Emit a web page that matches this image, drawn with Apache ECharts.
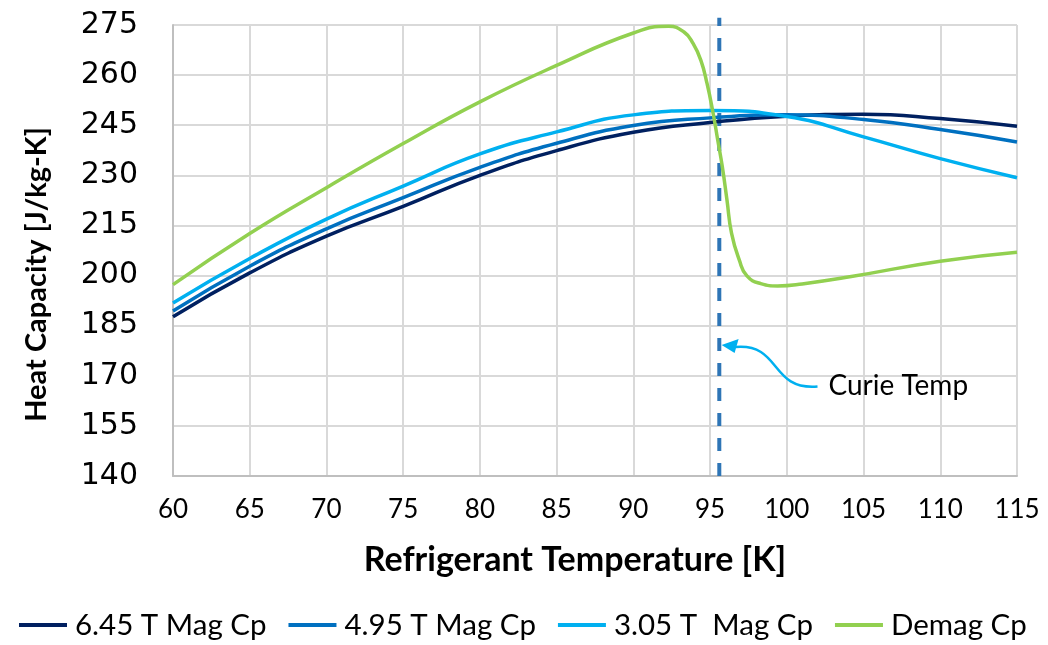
<!DOCTYPE html>
<html lang="en">
<head>
    <meta charset="UTF-8">
    <title>Heat Capacity</title>
    <script src="https://cdn.jsdelivr.net/npm/echarts@6/dist/echarts.min.js"></script>
    <style>
        html, body { margin: 0; padding: 0; background: #ffffff; }
    </style>
</head>
<body>
<div id="chart" style="width: 1048px; height: 645px;"></div>
<script>
    // temperatures [K] and heat capacity [J/kg-K]
    var magTemps = [60, 65, 70, 75, 80, 85, 90, 95, 100, 105, 110, 115];
    var cp645 = [187.7, 200.8, 211.8, 220.7, 230.0, 237.4, 242.9, 245.8, 247.7, 248.3, 247.0, 244.7];
    var cp495 = [189.4, 202.8, 214.0, 223.3, 232.4, 239.6, 244.9, 247.2, 248.1, 246.7, 243.7, 240.0];
    var cp305 = [191.8, 205.1, 216.9, 226.8, 236.4, 243.0, 248.1, 249.4, 247.6, 241.5, 235.0, 229.3];

    var demagTemps = [60, 65, 70, 75, 80, 85, 90, 92.3, 93.3, 93.9, 94.4, 94.8, 95.2, 95.5, 95.8,
        96.1, 96.4, 96.9, 97.4, 98.3, 99.4, 101, 104.2, 110, 115];
    var cpDemag = [197.3, 212.6, 226.3, 239.5, 252.0, 262.9, 272.6, 274.6, 272.9, 269.4, 264.4, 257.5, 248.5, 240.5, 232.5,
        222.6, 212.6, 204.7, 199.9, 197.6, 196.9, 197.5, 199.7, 204.3, 207.0];

    var seriesNames = ['6.45 T Mag Cp', '4.95 T Mag Cp', '3.05 T  Mag Cp', 'Demag Cp'];
    var curieTemp = 95.6;
    var curieSpan = [140, 277.2];

    function pairs(xs, ys) {
        var res = [];
        for (var i = 0; i < xs.length; i++) res.push([xs[i], ys[i]]);
        return res;
    }

    function curve(name, color, data) {
        return {
            name: name,
            type: 'line',
            data: data,
            showSymbol: false,
            smooth: 0.5,
            lineStyle: { color: color, width: 3.5 },
            itemStyle: { color: color },
            z: 3
        };
    }

    var chart = echarts.init(document.getElementById('chart'));
    chart.setOption({
        backgroundColor: '#ffffff',
        animation: false,
        grid: { left: 173, right: 31, top: 25, bottom: 169 },
        legend: {
            bottom: 0,
            left: 14,
            icon: 'rect',
            itemWidth: 48,
            itemHeight: 4,
            itemGap: 22,
            data: seriesNames,
            textStyle: { fontFamily: 'Lato', fontSize: 29.5, color: '#000000', padding: [0, 0, 0, 3] }
        },
        xAxis: {
            type: 'value',
            min: 60,
            max: 115,
            interval: 5,
            name: 'Refrigerant Temperature [K]',
            nameLocation: 'middle',
            nameGap: 67,
            nameTextStyle: { fontFamily: 'Lato', fontWeight: 'bold', fontSize: 34, color: '#000000', padding: [0, 40, 0, 0] },
            axisLine: { lineStyle: { color: '#bfbfbf', width: 2 } },
            axisTick: { show: false },
            axisLabel: { fontFamily: 'Lato', fontSize: 26, color: '#000000', margin: 21 },
            splitLine: { show: true, lineStyle: { color: '#d9d9d9', width: 2 } }
        },
        yAxis: {
            type: 'value',
            min: 140,
            max: 275,
            interval: 15,
            name: 'Heat Capacity [J/kg-K]',
            nameLocation: 'middle',
            nameGap: 122,
            nameTextStyle: { fontFamily: 'Lato', fontWeight: 'bold', fontSize: 29, color: '#000000', padding: [0, 48, 0, 0] },
            axisLine: { show: true, lineStyle: { color: '#bfbfbf', width: 2 } },
            axisTick: { show: false },
            axisLabel: { fontFamily: 'DejaVu Sans', fontSize: 30, color: '#000000', margin: 35 },
            splitLine: { show: true, lineStyle: { color: '#d9d9d9', width: 2 } }
        },
        series: [
            curve(seriesNames[0], '#002060', pairs(magTemps, cp645)),
            curve(seriesNames[1], '#0070c0', pairs(magTemps, cp495)),
            curve(seriesNames[2], '#00b0f0', pairs(magTemps, cp305)),
            curve(seriesNames[3], '#92d050', pairs(demagTemps, cpDemag)),
            {
                name: 'Curie',
                type: 'line',
                data: [[curieTemp, curieSpan[0]], [curieTemp, curieSpan[1]]],
                showSymbol: false,
                clip: false,
                silent: true,
                lineStyle: { color: '#2e75b6', width: 4, type: [13, 12] },
                z: 2
            }
        ]
    });

    // Curie Temp annotation with curved arrow
    var tip = chart.convertToPixel({ gridIndex: 0 }, [curieTemp + 0.15, 179.2]);
    var tail = chart.convertToPixel({ gridIndex: 0 }, [102.0, 166.8]);
    chart.setOption({
        graphic: [
            {
                type: 'bezierCurve',
                shape: {
                    x1: tail[0], y1: tail[1],
                    cpx1: tail[0] - 48, cpy1: tail[1] + 4,
                    cpx2: tip[0] + 60, cpy2: tip[1] - 2,
                    x2: tip[0] + 14, y2: tip[1] + 2
                },
                style: { stroke: '#00b0f0', lineWidth: 2.5, fill: null },
                z: 10
            },
            {
                type: 'polygon',
                shape: { points: [[tip[0], tip[1]], [tip[0] + 17, tip[1] - 6], [tip[0] + 13, tip[1] + 8]] },
                style: { fill: '#00b0f0' },
                z: 10
            },
            {
                type: 'text',
                x: tail[0] + 11,
                y: tail[1],
                style: {
                    text: 'Curie Temp',
                    fontFamily: 'Lato',
                    fontSize: 28,
                    fill: '#000000',
                    verticalAlign: 'middle'
                },
                z: 10
            }
        ]
    });
</script>
</body>
</html>
